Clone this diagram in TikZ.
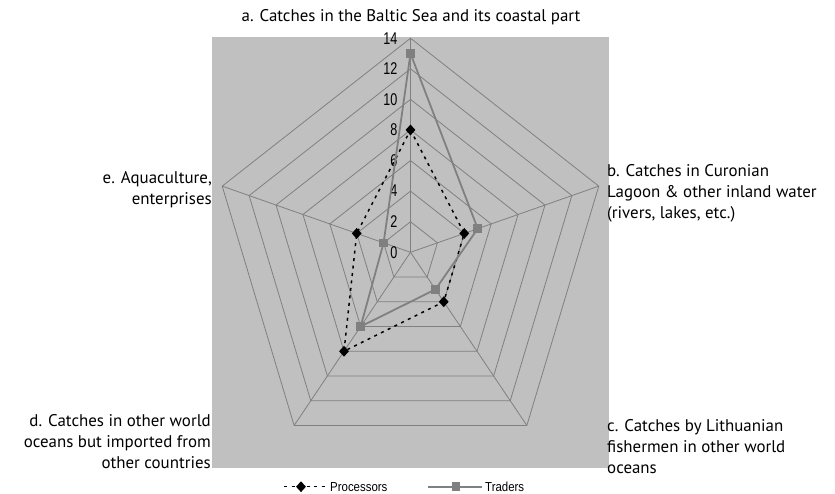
\documentclass[tikz,border=0pt]{standalone}
\usepackage{fontspec}
\usepackage{graphicx}
\setmainfont{PT Sans}
\newfontfamily\arialfont{Liberation Sans}
\usetikzlibrary{shapes.geometric, positioning}

\definecolor{chartbg}{RGB}{192,192,192}
\definecolor{gridgray}{RGB}{128,128,128}

\begin{document}
\begin{tikzpicture}[
        x=1pt, y=1pt,
        gridline/.style={draw=gridgray, line width=0.8pt},
        procline/.style={black, line width=1.5pt, dash pattern=on 3pt off 4.5pt},
        tradeline/.style={gridgray, line width=1.8pt},
        procmark/.style={diamond, fill=black, inner sep=0pt, minimum width=10pt, minimum height=11pt},
        trademark/.style={rectangle, fill=gridgray, inner sep=0pt, minimum size=8.5pt},
        ticklabel/.style={font=\arialfont\fontsize{17}{18}\selectfont, anchor=east, inner sep=0pt},
        catlabel/.style={font=\fontsize{16.9}{21}\selectfont, inner sep=0pt},
        legendtext/.style={font=\arialfont\fontsize{13}{14}\selectfont, anchor=west, inner sep=0pt}
    ]
    \useasboundingbox (0,0) rectangle (835,494);

    % plot area
    \fill[chartbg] (212,26) rectangle (609,457);

    \begin{scope}[shift={(410.5,241.7)}, x=14.14pt, y=15.29pt]
    \coordinate (O) at (0,0);
    \foreach \ax/\ang in {a/90, b/18, c/-54, d/-126, e/-198}
        \coordinate (ax-\ax) at (\ang:14);

    % grid
    \foreach \r in {2,4,...,14}
        \draw[gridline] (90:\r) -- (18:\r) -- (-54:\r) -- (-126:\r) -- (-198:\r) -- cycle;
    \foreach \ax in {a,b,c,d,e}
        \draw[gridline] (O) -- (ax-\ax);

    % scale values
    \foreach \v in {0,2,...,14}
        \node[ticklabel] (tick\v) at (-0.92,\v) {\scalebox{0.74}[1]{\v}};

    % data
    \foreach \ax/\ang/\p/\t in {a/90/8/13, b/18/4/5, c/-54/4/3, d/-126/8/6, e/-198/4/2} {
        \coordinate (proc-\ax) at (\ang:\p);
        \coordinate (trade-\ax) at (\ang:\t);
    }
    \draw[procline] (proc-a) -- (proc-b) -- (proc-c) -- (proc-d) -- (proc-e) -- cycle;
    \foreach \ax in {a,b,c,d,e}
        \node[procmark] (pm-\ax) at (proc-\ax) {};
    \draw[tradeline] (trade-a) -- (trade-b) -- (trade-c) -- (trade-d) -- (trade-e) -- cycle;
    \foreach \ax in {a,b,c,d,e}
        \node[trademark] (tm-\ax) at (trade-\ax) {};
    \end{scope}

    % category labels
    \node[catlabel] (lab-a) at (411,477) {a. Catches in the Baltic Sea and its coastal part};
    \node[catlabel, anchor=west, align=left] (lab-b) at (607,301)
        {b. Catches in Curonian\\Lagoon \& other inland water\\(rivers, lakes, etc.)};
    \node[catlabel, anchor=west, align=left] (lab-c) at (607,47)
        {c. Catches by Lithuanian\\fishermen in other world\\oceans};
    \node[catlabel, anchor=east, align=right] (lab-d) at (211,52)
        {d. Catches in other world\\oceans but imported from\\other countries};
    \node[catlabel, anchor=east, align=right] (lab-e) at (212,304)
        {e. Aquaculture,\\enterprises};

    % legend
    \coordinate (lp-l) at (284,7.3);
    \coordinate (lp-r) at (325,7.3);
    \draw[procline] (lp-l) -- (lp-r);
    \node[procmark] (lp-m) at (301,7.3) {};
    \node[legendtext] (lp-t) at (330,7.3) {\scalebox{0.88}[1]{Processors}};
    \coordinate (lt-l) at (428,7.3);
    \coordinate (lt-r) at (482,7.3);
    \draw[tradeline] (lt-l) -- (lt-r);
    \node[trademark] (lt-m) at (456,7.3) {};
    \node[legendtext] (lt-t) at (485,7.3) {\scalebox{0.88}[1]{Traders}};
\end{tikzpicture}
\end{document}
